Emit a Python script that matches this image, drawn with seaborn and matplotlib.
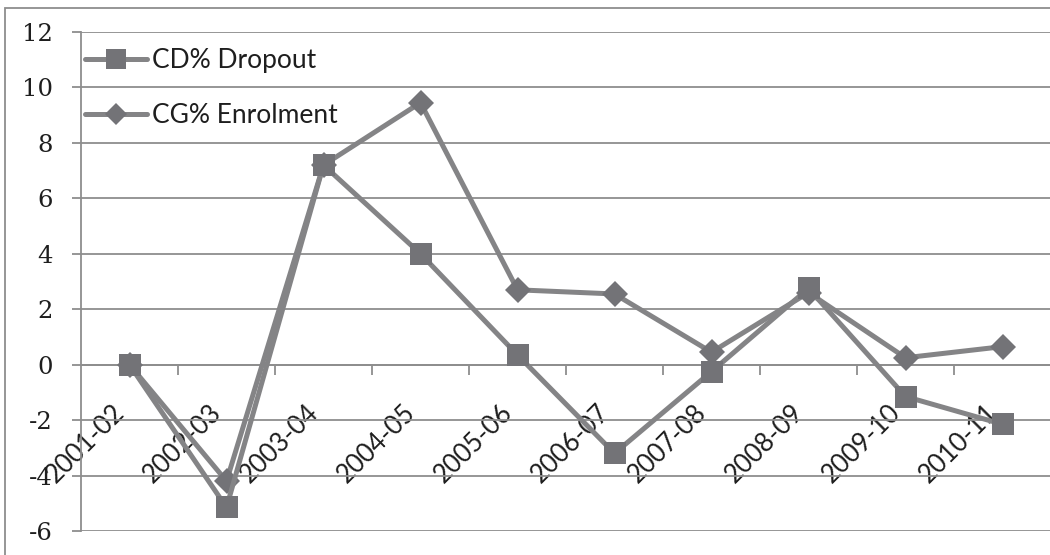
import numpy as np
import pandas as pd
import matplotlib
matplotlib.use("Agg")
import matplotlib.pyplot as plt
from matplotlib.patches import Rectangle
from matplotlib.transforms import ScaledTranslation
import seaborn as sns

# Year-on-year percentage change by academic year
years = ["2001-02", "2002-03", "2003-04", "2004-05", "2005-06",
         "2006-07", "2007-08", "2008-09", "2009-10", "2010-11"]
dropout = [0.0, -5.15, 7.2, 4.0, 0.35, -3.2, -0.25, 2.75, -1.15, -2.15]
enrolment = [0.0, -4.2, 7.2, 9.45, 2.7, 2.55, 0.45, 2.6, 0.25, 0.65]
series_names = ["CD% Dropout", "CG% Enrolment"]
y_ticks = [-6, -4, -2, 0, 2, 4, 6, 8, 10, 12]

df = pd.DataFrame({
    "year": years * 2,
    "value": dropout + enrolment,
    "series": [series_names[0]] * len(years) + [series_names[1]] * len(years),
})

sns.set_theme(style="white")
plt.rcParams["font.family"] = ["Lato", "DejaVu Sans"]

grid_c = "#8e8e8e"
line_c = "#848486"
mark_c = "#737377"
text_c = "#1e1e1e"

fig = plt.figure(figsize=(10.5, 5.55), dpi=100)
ax = fig.add_axes([81 / 1050, 1 - 531 / 555, (1051 - 81) / 1050, (531 - 32) / 555])

sns.lineplot(
    data=df, x="year", y="value", hue="series", style="series",
    hue_order=series_names, style_order=series_names,
    palette=[line_c, line_c], markers={series_names[0]: "s", series_names[1]: "D"},
    dashes=False, linewidth=3.6, ax=ax, sort=False,
)

for ln in ax.lines:
    ln.set_markerfacecolor(mark_c)
    ln.set_markeredgecolor(mark_c)
    ln.set_markeredgewidth(0)
    if ln.get_marker() == "s":
        ln.set_markersize(16.5)
        ln.set_zorder(4)
    else:
        ln.set_markersize(13)
        ln.set_zorder(3)

ax.set_xlim(-0.5, len(years) - 0.5)
ax.set_ylim(-6, 12)
ax.set_xlabel("")
ax.set_ylabel("")

# y axis: gridlines every 2 units, serif numerals
ax.set_yticks(y_ticks)
ax.set_yticklabels([str(v) for v in y_ticks], fontfamily="DejaVu Serif",
                   fontsize=17.5, color=text_c)
ax.yaxis.grid(True, color=grid_c, linewidth=1.3)
ax.tick_params(axis="y", which="major", length=6.5, width=1.3, color=grid_c,
               pad=14, left=True)

# category axis sits on the zero line, with ticks between categories
ax.spines["bottom"].set_position(("data", 0))
for side in ("top", "right"):
    ax.spines[side].set_visible(False)
for side in ("left", "bottom"):
    ax.spines[side].set_color(grid_c)
    ax.spines[side].set_linewidth(1.3)
ax.set_xticks(range(len(years)))
ax.set_xticklabels(years, rotation=45, ha="right", va="top", fontsize=18.5,
                   color=text_c)
shift = ScaledTranslation(9 / 100, 0, fig.dpi_scale_trans)
for lbl in ax.get_xticklabels():
    lbl.set_transform(lbl.get_transform() + shift)
ax.set_xticks(np.arange(0.5, len(years) - 0.5, 1), minor=True)
ax.tick_params(axis="x", which="major", length=0, pad=25, bottom=True)
ax.tick_params(axis="x", which="minor", length=7, width=1.3, color=grid_c,
               bottom=True, direction="out")
ax.set_axisbelow(True)

leg = ax.legend(loc="upper left", bbox_to_anchor=(0.004, 0.968), frameon=False,
                fontsize=19, handlelength=2.35, handletextpad=0.2,
                labelspacing=1.15, borderpad=0, borderaxespad=0,
                markerscale=0.85)
for t in leg.get_texts():
    t.set_color(text_c)
for h in leg.legend_handles:
    h.set_markerfacecolor(mark_c)
    h.set_markeredgecolor(mark_c)

fig.add_artist(Rectangle((5 / 1050, -0.1), 1.2, (555 - 8) / 555 + 0.1,
                         transform=fig.transFigure, fill=False,
                         edgecolor=grid_c, linewidth=1.3))

fig.savefig("out.png", dpi=100)
